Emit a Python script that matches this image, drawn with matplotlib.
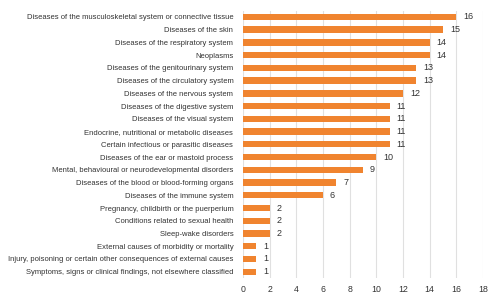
import matplotlib
matplotlib.use("Agg")
import matplotlib.pyplot as plt

categories = [
    "Diseases of the musculoskeletal system or connective tissue",
    "Diseases of the skin",
    "Diseases of the respiratory system",
    "Neoplasms",
    "Diseases of the genitourinary system",
    "Diseases of the circulatory system",
    "Diseases of the nervous system",
    "Diseases of the digestive system",
    "Diseases of the visual system",
    "Endocrine, nutritional or metabolic diseases",
    "Certain infectious or parasitic diseases",
    "Diseases of the ear or mastoid process",
    "Mental, behavioural or neurodevelopmental disorders",
    "Diseases of the blood or blood-forming organs",
    "Diseases of the immune system",
    "Pregnancy, childbirth or the puerperium",
    "Conditions related to sexual health",
    "Sleep-wake disorders",
    "External causes of morbidity or mortality",
    "Injury, poisoning or certain other consequences of external causes",
    "Symptoms, signs or clinical findings, not elsewhere classified",
]
values = [16, 15, 14, 14, 13, 13, 12, 11, 11, 11, 11, 10, 9, 7, 6, 2, 2, 2, 1, 1, 1]
xticks = list(range(0, 19, 2))

plt.rcParams['font.family'] = ['Liberation Sans', 'DejaVu Sans']

fig = plt.figure(figsize=(4.98, 3.0), dpi=100)
ax = fig.add_axes([0.488, 0.073, 0.482, 0.892])

ypos = list(range(len(categories)))
ax.barh(ypos, values, height=0.5, color="#F0842F", zorder=3)
ax.set_ylim(len(categories) - 0.5, -0.5)
ax.set_xlim(0, 18)
ax.set_xticks(xticks)
ax.set_yticks(ypos)
ax.set_yticklabels(categories, fontsize=5.5, color="#333333")
ax.tick_params(axis='y', length=0, pad=7)
ax.tick_params(axis='x', length=0, pad=5, labelsize=6.3, labelcolor="#333333")
ax.grid(axis='x', color="#E0E0E0", linewidth=0.8, zorder=0)
for s in ax.spines.values():
    s.set_visible(False)

for y, v in zip(ypos, values):
    ax.annotate(str(v), xy=(v, y), xytext=(5, 0), textcoords='offset points',
                va='center', ha='left', fontsize=6.5, color="#333333")

fig.savefig("out.png", dpi=100)
